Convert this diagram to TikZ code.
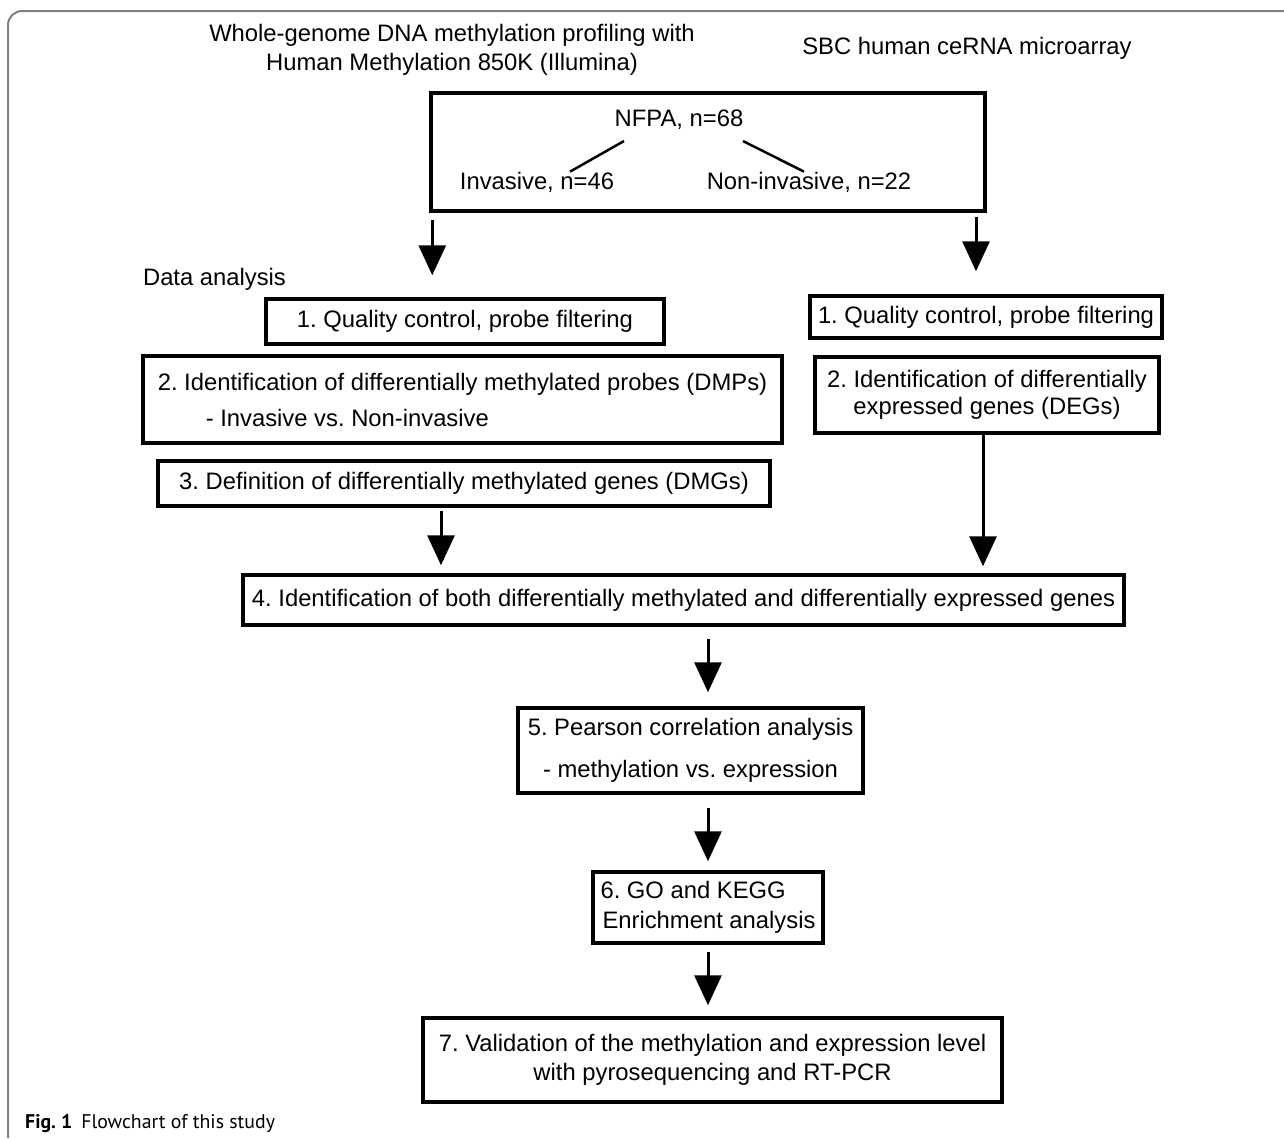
\documentclass[tikz,border=0pt]{standalone}
\usepackage{fontspec}
\setmainfont{Liberation Sans}
\newfontfamily\captionfont{PT Sans}
\usetikzlibrary{arrows.meta}
\frenchspacing

\tikzset{
every node/.style={inner sep=0pt,font=\fontsize{23.8}{28}\selectfont},
stage/.style={draw,line width=3.5pt,align=center},
heading/.style={align=center},
flow/.style={->,line width=3pt},
branch/.style={line width=2.5pt}
}

\begin{document}
\begin{tikzpicture}[x=1pt,y=-1pt,>={Triangle[width=27pt,length=30pt]}]
\useasboundingbox (0,0) rectangle (1284,1138);

% the frame round the figure
\draw[black!50,line width=2pt,rounded corners=14pt] (8,1138) -- (8,11) -- (1284,11);

% the two platforms
\node[heading] (platform1) at (452,50) {Whole-genome DNA methylation profiling with\\[1pt] Human Methylation 850K (Illumina)};
\node[heading] (platform2) at (967,48) {SBC human ceRNA microarray};

% the cohort box and its two groups
\node[stage,minimum width=554pt,minimum height=118pt] (cohort) at (708,152) {};
\node (total) at (679,120) {NFPA, n=68};
\node (inv) at (537,182) {Invasive, n=46};
\node (noninv) at (809,182) {Non-invasive, n=22};
\draw[branch] ([xshift=-55pt,yshift=-11pt]total.south) -- ([xshift=33pt]inv.north);
\draw[branch] ([xshift=64pt,yshift=-11pt]total.south) -- ([xshift=-5pt]noninv.north);

% the methylation steps (left)
\node[heading] (analysis) at (214.5,279) {Data analysis};
\node[stage,minimum width=398pt,minimum height=45pt] (b1l) at (465,321.5) {1. Quality control, probe filtering};
\node[stage,align=left,minimum width=639pt,minimum height=87pt] (b2l) at (462.5,399.5) {2. Identification of differentially methylated probes (DMPs)\\[8pt]\hspace*{48pt}- Invasive vs. Non-invasive};
\node[stage,minimum width=612pt,minimum height=45pt] (b3l) at (464,483.5) {3. Definition of differentially methylated genes (DMGs)};

% the expression steps (right)
\node[stage,minimum width=352pt,minimum height=42pt] (b1r) at (986,317) {1. Quality control, probe filtering};
\node[stage,minimum width=344pt,minimum height=76pt] (b2r) at (987,395) {2. Identification of differentially\\[-1pt] expressed genes (DEGs)};

% the joint steps
\node[stage,minimum width=881pt,minimum height=50pt] (b4) at (683.5,600) {4. Identification of both differentially methylated and differentially expressed genes};
\node[stage,minimum width=345pt,minimum height=85pt] (b5) at (690.5,750.5) {5. Pearson correlation analysis\\[14pt] - methylation vs. expression};
\node[stage,align=left,minimum width=230pt,minimum height=71pt] (b6) at (708,907.5) {6. GO and KEGG\\[2pt]\hspace*{2pt}Enrichment analysis};
\node[stage,minimum width=579pt,minimum height=84pt] (b7) at (712.5,1060) {7. Validation of the methylation and expression level\\[1pt] with pyrosequencing and RT-PCR};

\node[anchor=west,font=\captionfont\fontsize{19.8}{24}\selectfont] (caption) at (25,1124) {\textbf{Fig. 1}\hspace{9pt}Flowchart of this study};

% arrows between the steps
\draw[flow,shorten <=7pt,shorten >=22pt] ([xshift=3pt]cohort.south west) -- ([xshift=3pt]cohort.south west |- b1l.north);
\draw[flow,shorten <=4pt,shorten >=23pt] ([xshift=-10pt]b1r.north |- cohort.south) -- ([xshift=-10pt]b1r.north);
\draw[flow,shorten <=3pt,shorten >=8pt] ([xshift=-23pt]b3l.south) -- ([xshift=-23pt]b3l.south |- b4.north);
\draw[flow,shorten >=7pt] ([xshift=-4pt]b2r.south) -- ([xshift=-4pt]b2r.south |- b4.north);

\foreach \a/\b/\s/\e in {b4/b5/12pt/14pt,b5/b6/13pt/9pt,b6/b7/7pt/11pt}
  \draw[flow,shorten <=\s,shorten >=\e] (\a.south -| b6) -- (\b.north -| b6);
\end{tikzpicture}
\end{document}
